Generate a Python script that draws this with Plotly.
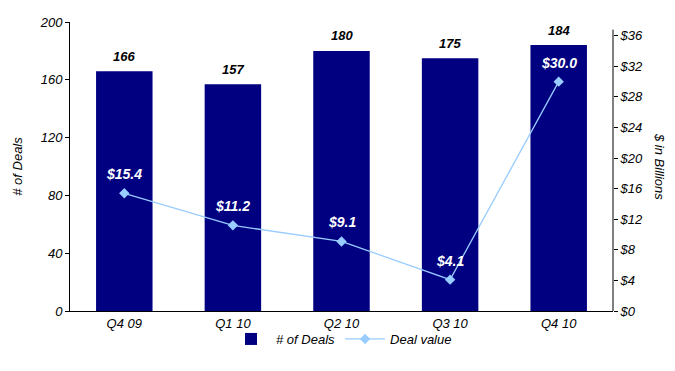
import plotly.graph_objects as go

quarters = ["Q4 09", "Q1 10", "Q2 10", "Q3 10", "Q4 10"]
deals = [166, 157, 180, 175, 184]
deal_value = [15.4, 11.2, 9.1, 4.1, 30.0]
left_ticks = [0, 40, 80, 120, 160, 200]
right_ticks = [0, 4, 8, 12, 16, 20, 24, 28, 32, 36]

FONT = "Liberation Sans, Arial, sans-serif"

fig = go.Figure()
fig.add_trace(go.Bar(
    x=quarters, y=deals, name="<i># of Deals</i>",
    marker=dict(color="#000080", line=dict(width=0)),
    width=0.52,
))
fig.add_trace(go.Scatter(
    x=quarters, y=deal_value, name="<i>Deal value</i>", yaxis="y2",
    mode="lines+markers",
    line=dict(color="#99CCFF", width=1.3),
    marker=dict(symbol="diamond", size=8, color="#99CCFF"),
))

for q, d in zip(quarters, deals):
    fig.add_annotation(x=q, y=d, xref="x", yref="y", text=f"<b><i>{d}</i></b>",
                       showarrow=False, yanchor="middle", yshift=15,
                       font=dict(family=FONT, size=13, color="black"))
for q, v in zip(quarters, deal_value):
    fig.add_annotation(x=q, y=v, xref="x", yref="y2", text=f"<b><i>${v:.1f}</i></b>",
                       showarrow=False, yanchor="middle", yshift=19,
                       font=dict(family=FONT, size=14, color="white"))

fig.update_layout(
    width=675, height=371,
    margin=dict(l=70, r=62, t=22, b=60, autoexpand=False),
    paper_bgcolor="white", plot_bgcolor="white",
    font=dict(family=FONT, size=13, color="black"),
    showlegend=True,
    legend=dict(orientation="h", x=0.5, xanchor="center", y=-0.045, yanchor="top",
                bgcolor="rgba(0,0,0,0)",
                font=dict(family=FONT, size=13), itemwidth=40, tracegroupgap=0),
    xaxis=dict(showline=True, linecolor="black", linewidth=1, ticks="",
               tickvals=quarters, ticktext=[f"<i>{q}</i>" for q in quarters],
               tickfont=dict(family=FONT, size=13), showgrid=False),
    yaxis=dict(range=[0, 200], tickvals=left_ticks, ticktext=[f"<i>{t}</i>" for t in left_ticks],
               showline=True, linecolor="black",
               linewidth=1, ticks="outside", ticklen=4, tickcolor="black", showgrid=False,
               zeroline=False, tickfont=dict(family=FONT, size=13),
               title=dict(text="<i># of Deals</i>", font=dict(family=FONT, size=13), standoff=14)),
    yaxis2=dict(range=[0, 37.8], tickvals=right_ticks, ticktext=[f"<i>${t}</i>" for t in right_ticks],
                overlaying="y", side="right", showline=False,
                ticks="outside", ticklen=4, tickcolor="black", showgrid=False, zeroline=False,
                tickfont=dict(family=FONT, size=13)),
)

fig.add_shape(type="line", xref="paper", yref="y2", x0=1, x1=1, y0=0, y1=36.8,
              line=dict(color="black", width=1))

fig.add_annotation(text="<i>$ in Billions</i>", xref="paper", yref="paper",
                   x=1, xshift=56, y=0.5, textangle=90, showarrow=False,
                   font=dict(family=FONT, size=13))

fig.write_html("out.html")
